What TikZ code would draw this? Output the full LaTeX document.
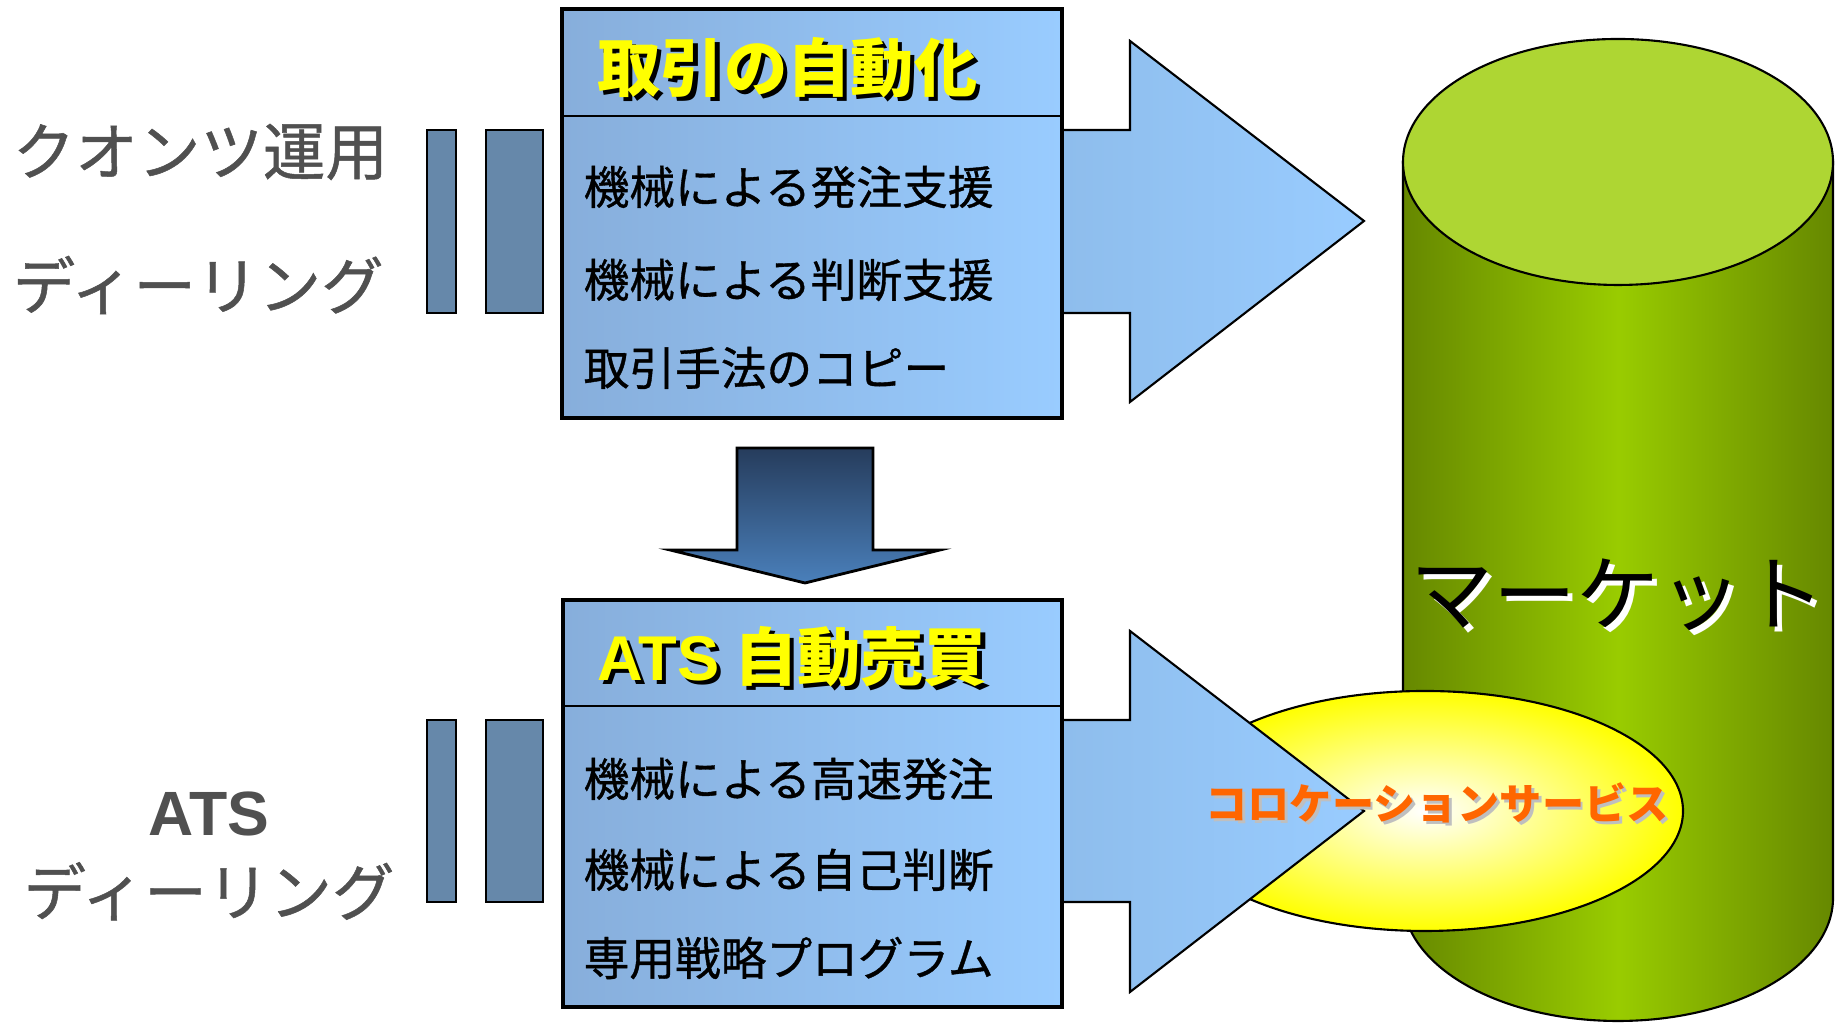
\documentclass[tikz,border=0pt]{standalone}
\usepackage{fontspec}
\setmainfont{Noto Sans CJK JP}
\newfontfamily\medio{Noto Sans CJK JP}[FakeBold=0.8]
\newfontfamily\latina{Liberation Sans}

\definecolor{cajaIzq}{HTML}{87AEDB}
\definecolor{cajaDer}{HTML}{99CCFF}
\definecolor{flechaIzq}{HTML}{8EBDEC}
\definecolor{azulBarra}{HTML}{6688AA}
\definecolor{grisTexto}{HTML}{505050}
\definecolor{verdeOscuro}{HTML}{668800}
\definecolor{verdeClaro}{HTML}{99CC00}
\definecolor{verdeTapa}{HTML}{AED633}
\definecolor{azulOscuro}{HTML}{263C5C}
\definecolor{azulMedio}{HTML}{4A80BB}
\definecolor{naranja}{HTML}{FF6600}
\definecolor{amarillo}{HTML}{FFFF00}

% Texto con sombra: desplazamiento, color de sombra, texto
\newcommand{\textosombra}[3]{\makebox[0pt][l]{\hspace{#1}\raisebox{-#1}{\textcolor{#2}{#3}}}#3}

\tikzset{
	caja/.style={draw=black, line width=1pt, left color=cajaIzq, right color=cajaDer},
	flecha/.style={draw=black, line width=0.6pt, left color=flechaIzq, right color=cajaDer},
	barra/.style={draw=black, line width=0.8pt, fill=azulBarra},
	etiqueta/.style={anchor=west, inner sep=0pt, text=grisTexto, font=\medio\fontsize{17.8}{21}\selectfont},
	titulo/.style={anchor=west, inner sep=0pt, text=amarillo, font=\fontsize{18}{21}\selectfont\bfseries},
	item/.style={anchor=west, inner sep=0pt, font=\medio\fontsize{13}{15}\selectfont}
}

\begin{document}
\begin{tikzpicture}
	\useasboundingbox (0,0) rectangle (18.36,10.23);
		% Mercado
			% Cilindro
				\shade[draw=black, line width=0.6pt, left color=verdeOscuro, right color=verdeOscuro, middle color=verdeClaro]
					(14.03,8.61) -- (14.03,1.25) arc[start angle=180, end angle=360, x radius=2.15, y radius=1.23] -- (18.33,8.61) -- cycle;
				\draw[line width=0.6pt, fill=verdeTapa] (16.18,8.61) ellipse[x radius=2.15, y radius=1.23];
			% Elipse
				\shade[draw=black, line width=0.6pt, inner color=white, outer color=amarillo] (14.25,2.12) ellipse[x radius=2.58, y radius=1.20];

		% Barras
			\foreach \ya/\yb in {8.93/7.10, 3.03/1.21}{
				\draw[barra] (4.27,\ya) rectangle (4.56,\yb);
				\draw[barra] (4.86,\ya) rectangle (5.43,\yb);
			}

		% Flechas
			\shade[flecha] (10.62,8.93) -- (11.30,8.93) -- (11.30,9.82) -- (13.64,8.02) -- (11.30,6.21) -- (11.30,7.10) -- (10.62,7.10) -- cycle;
			\shade[flecha] (10.62,3.03) -- (11.30,3.03) -- (11.30,3.92) -- (13.64,2.12) -- (11.30,0.31) -- (11.30,1.21) -- (10.62,1.21) -- cycle;
			\shade[draw=black, line width=0.8pt, top color=azulOscuro, bottom color=azulMedio]
				(7.37,5.75) -- (8.73,5.75) -- (8.73,4.73) -- (9.40,4.73) -- (8.05,4.40) -- (6.70,4.73) -- (7.37,4.73) -- cycle;

		% Cajas
			\shade[caja] (5.62,10.14) rectangle (10.62,6.05);
			\draw[line width=0.6pt] (5.62,9.07) -- (10.62,9.07);
			\shade[caja] (5.63,4.23) rectangle (10.62,0.16);
			\draw[line width=0.6pt] (5.63,3.17) -- (10.62,3.17);

		% Textos
			\node[titulo] (titulo1) at (5.97,9.53) {\textosombra{1.2pt}{black}{取引の自動化}};
			\node[item] (item11) at (5.83,8.36) {機械による発注支援};
			\node[item] (item12) at (5.83,7.43) {機械による判断支援};
			\node[item] (item13) at (5.83,6.55) {取引手法のコピー};

			\node[titulo] (titulo2) at (5.97,3.64) {\textosombra{1.2pt}{black}{{\latina ATS} 自動売買}};
			\node[item] (item21) at (5.83,2.44) {機械による高速発注};
			\node[item] (item22) at (5.83,1.53) {機械による自己判断};
			\node[item] (item23) at (5.83,0.65) {専用戦略プログラム};

			\node[etiqueta] (quant) at (0.12,8.71) {クオンツ運用};
			\node[etiqueta] (dealing) at (0.12,7.38) {ディーリング};
			\node[inner sep=0pt, align=center, text=grisTexto, font=\medio\fontsize{17.8}{22.8}\selectfont] (atsDealing) at (2.09,1.67) {{\latina\bfseries ATS}\\ディーリング};

			\node[inner sep=0pt, font=\fontsize{23.6}{26}\selectfont] (mercado) at (16.18,4.26) {\textosombra{1.5pt}{white}{マーケット}};
			\node[inner sep=0pt, text=naranja, font=\fontsize{12}{14}\selectfont\bfseries] (coloc) at (14.37,2.19) {\textosombra{0.8pt}{black!25}{コロケーションサービス}};
\end{tikzpicture}
\end{document}
